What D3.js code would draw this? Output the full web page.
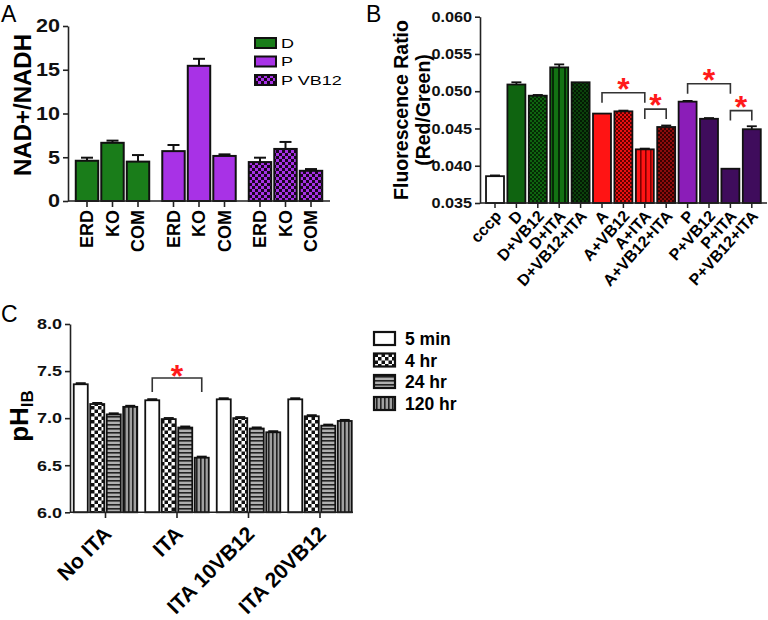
<!DOCTYPE html>
<html><head><meta charset="utf-8">
<script src="https://cdn.jsdelivr.net/npm/d3@7/dist/d3.min.js"></script>
<style>body{margin:0;background:#fff} svg{display:block;font-family:"Liberation Sans",Arial,Helvetica,sans-serif}</style>
</head><body><svg id="c" width="768" height="620"></svg>
<script>
// ---------- Panel A data ----------
const aGroups = ["D", "P", "P VB12"];
const aCats = ["ERD", "KO", "COM"];
const aD = [4.6, 6.65, 4.5];
const aDErr = [0.35, 0.25, 0.75];
const aP = [5.7, 15.45, 5.15];
const aPErr = [0.7, 0.8, 0.18];
const aPVB = [4.45, 5.95, 3.45];
const aPVBErr = [0.5, 0.8, 0.2];
const aTicks = [0, 5, 10, 15, 20];

// ---------- Panel B data ----------
const bCats = ["cccp","D","D+VB12","D+ITA","D+VB12+ITA","A","A+VB12","A+ITA","A+VB12+ITA","P","P+VB12","P+ITA","P+VB12+ITA"];
const bVals = [0.0386,0.0509,0.0494,0.0532,0.0512,0.0470,0.0473,0.0422,0.0452,0.0486,0.0463,0.0396,0.0449];
const bErr  = [0.0001,0.0003,0.0001,0.0004,0.0000,0.0000,0.0001,0.0001,0.0002,0.0001,0.0001,0.0000,0.0004];
const bTicks = [0.035,0.040,0.045,0.050,0.055,0.060];
const bBrackets = [["A","A+ITA",0.0498],["A+ITA","A+VB12+ITA",0.0476],["P","P+ITA",0.0510],["P+ITA","P+VB12+ITA",0.0474]];

// ---------- Panel C data ----------
const cGroups = ["No ITA","ITA","ITA 10VB12","ITA 20VB12"];
const cSeries = ["5 min","4 hr","24 hr","120 hr"];
const c5min  = [7.36,7.19,7.20,7.20];
const c4hr   = [7.15,6.99,7.00,7.02];
const c24hr  = [7.04,6.90,6.89,6.92];
const c120hr = [7.12,6.58,6.85,6.97];
const cErr   = [0.012,0.012,0.012,0.012];
const cTicks = [6.0,6.5,7.0,7.5,8.0];
const cBracket = ["ITA","5 min","120 hr",7.426];

// ---------- helpers ----------
const svg = d3.select("#c");
const defs = svg.append("defs");
function checker(id,a,b,s){
  const p=defs.append("pattern").attr("id",id).attr("patternUnits","userSpaceOnUse").attr("width",2*s).attr("height",2*s);
  p.append("rect").attr("width",2*s).attr("height",2*s).attr("fill",a);
  p.append("rect").attr("width",s).attr("height",s).attr("fill",b);
  p.append("rect").attr("x",s).attr("y",s).attr("width",s).attr("height",s).attr("fill",b);
}
function stripes(id,bg,fg,per,w,vertical){
  const p=defs.append("pattern").attr("id",id).attr("patternUnits","userSpaceOnUse").attr("width",per).attr("height",per);
  p.append("rect").attr("width",per).attr("height",per).attr("fill",bg);
  if(vertical) p.append("rect").attr("x",0).attr("width",w).attr("height",per).attr("fill",fg);
  else p.append("rect").attr("y",0).attr("height",w).attr("width",per).attr("fill",fg);
}
function stretch(sel,sx){
  sel.each(function(){const t=d3.select(this);const x=+t.attr("x")||0;const y=+t.attr("y")||0;
    t.attr("x",0).attr("y",0).attr("transform",`translate(${x},${y}) scale(${sx},1)`);});
}
function styleAxis(g){ g.selectAll("path,line").attr("stroke","#222").attr("stroke-width",1.6); }
function star(x,cy){
  svg.append("text").attr("x",x).attr("y",cy+18).attr("text-anchor","middle")
    .attr("font-size",32).attr("font-weight","bold").attr("fill","#ff1a1a").text("*");
}

// patterns
checker("pA3","#a832e6","#1a0520",3);
checker("pB2","#0f6410","#042a04",2);
stripes("pB3","#137213","#042a04",6,2,true);
checker("pB4","#0c420c","#031a03",2);
checker("pB6","#e81010","#600000",2);
stripes("pB7","#ff1414","#800000",5,1.6,true);
checker("pB8","#8c0c0c","#3a0000",2);
checker("pC2","#ffffff","#111111",3.5);
stripes("pC3","#b0b0b0","#222222",4,1.6,false);
stripes("pC4","#a0a0a0","#222222",4,1.6,true);

// panel letters
svg.append("text").attr("x",1).attr("y",22).attr("font-size",23).text("A");
svg.append("text").attr("x",366).attr("y",22).attr("font-size",23).text("B");
svg.append("text").attr("x",1).attr("y",322).attr("font-size",23).text("C");

// ================= Panel A =================
{
  const x0=d3.scaleBand().domain(aGroups).range([74.5,323.5]).paddingInner(0.1214);
  const x1=d3.scaleBand().domain(aCats).range([0,x0.bandwidth()]).paddingInner(0.12).paddingOuter(0.05);
  const y=d3.scaleLinear().domain([0,20]).range([201,26]);
  const vals=[aD,aP,aPVB], errs=[aDErr,aPErr,aPVBErr];
  const fills=["#1a7d1a","#a832e6","url(#pA3)"];
  const g=svg.append("g");
  aGroups.forEach((gr,gi)=>{
    aCats.forEach((c,ci)=>{
      const v=vals[gi][ci], e=errs[gi][ci], bx=x0(gr)+x1(c), bw=x1.bandwidth(), cx=bx+bw/2;
      g.append("line").attr("x1",cx).attr("x2",cx).attr("y1",y(v)).attr("y2",y(v+e)).attr("stroke","#111").attr("stroke-width",2);
      g.append("line").attr("x1",cx-6).attr("x2",cx+6).attr("y1",y(v+e)).attr("y2",y(v+e)).attr("stroke","#111").attr("stroke-width",2);
      g.append("rect").attr("x",bx).attr("y",y(v)).attr("width",bw).attr("height",y(0)-y(v))
        .attr("fill",fills[gi]).attr("stroke","#111").attr("stroke-width",2);
      g.append("line").attr("x1",cx).attr("x2",cx).attr("y1",201).attr("y2",207).attr("stroke","#222").attr("stroke-width",1.6);
      g.append("text").attr("transform",`translate(${cx},210) rotate(-90)`).attr("dy","0.35em")
        .attr("text-anchor","end").attr("font-weight","bold").attr("font-size",18).text(c);
    });
  });
  g.append("line").attr("x1",68).attr("x2",330).attr("y1",201).attr("y2",201).attr("stroke","#222").attr("stroke-width",1.6);
  const ya=svg.append("g").attr("transform","translate(68,0)")
    .call(d3.axisLeft(y).tickValues(aTicks).tickSize(5).tickPadding(3).tickSizeOuter(0));
  styleAxis(ya);
  ya.selectAll("text").attr("font-size",18).attr("font-weight","bold").attr("fill","#111").attr("font-family","Liberation Sans, Arial, sans-serif");
  stretch(ya.selectAll("text"),1.2);
  svg.append("text").attr("transform","translate(23,105) rotate(-90)").attr("dy","0.35em").attr("text-anchor","middle")
    .attr("font-weight","bold").attr("font-size",24).text("NAD+/NADH");
  // legend
  const ly=[38,56.5,75];
  aGroups.forEach((gr,i)=>{
    svg.append("rect").attr("x",255).attr("y",ly[i]).attr("width",21).attr("height",10).attr("fill",fills[i]).attr("stroke","#111").attr("stroke-width",2);
    const t=svg.append("text").attr("x",281).attr("y",ly[i]+9.5).attr("font-size",12).text(gr);
    stretch(t,1.5);
  });
}

// ================= Panel B =================
{
  const x=d3.scaleBand().domain(bCats).range([484.3,762.5]).paddingInner(0.16).paddingOuter(0.08);
  const y=d3.scaleLinear().domain([0.035,0.060]).range([203,16.7]);
  const fills=["#ffffff","#0f6410","url(#pB2)","url(#pB3)","url(#pB4)","#ff1414","url(#pB6)","url(#pB7)","url(#pB8)","#8b1db8","#3f0c5c","#3f0c5c","#3f0c5c"];
  const g=svg.append("g");
  const bw=x.bandwidth();
  bCats.forEach((c,i)=>{
    const v=bVals[i], e=bErr[i], bx=x(c), cx=bx+bw/2;
    if(e>0){
      g.append("line").attr("x1",cx).attr("x2",cx).attr("y1",y(v)).attr("y2",y(v+e)).attr("stroke","#111").attr("stroke-width",1.8);
      g.append("line").attr("x1",cx-5).attr("x2",cx+5).attr("y1",y(v+e)).attr("y2",y(v+e)).attr("stroke","#111").attr("stroke-width",1.8);
    }
    g.append("rect").attr("x",bx).attr("y",y(v)).attr("width",bw).attr("height",y(0.035)-y(v))
      .attr("fill",fills[i]).attr("stroke","#111").attr("stroke-width",1.8);
    g.append("line").attr("x1",cx).attr("x2",cx).attr("y1",203).attr("y2",208).attr("stroke","#222").attr("stroke-width",1.5);
    g.append("text").attr("transform",`translate(${cx+3},213) rotate(-48)`).attr("dy","0.35em")
      .attr("text-anchor","end").attr("font-weight","bold").attr("font-size",16).text(c);
  });
  g.append("line").attr("x1",480).attr("x2",767).attr("y1",203).attr("y2",203).attr("stroke","#222").attr("stroke-width",1.6);
  const ya=svg.append("g").attr("transform","translate(480,0)")
    .call(d3.axisLeft(y).tickValues(bTicks).tickFormat(d3.format(".3f")).tickSize(5).tickPadding(3).tickSizeOuter(0));
  styleAxis(ya);
  ya.selectAll("text").attr("font-size",14.5).attr("font-weight","bold").attr("fill","#111").attr("font-family","Liberation Sans, Arial, sans-serif");
  stretch(ya.selectAll("text"),1.12);
  svg.append("text").attr("transform","translate(401,110) rotate(-90)").attr("dy","0.35em").attr("text-anchor","middle")
    .attr("font-weight","bold").attr("font-size",19.5).text("Fluorescence Ratio");
  svg.append("text").attr("transform","translate(423,110) rotate(-90)").attr("dy","0.35em").attr("text-anchor","middle")
    .attr("font-weight","bold").attr("font-size",19.5).text("(Red/Green)");
  bBrackets.forEach(([c1,c2,v])=>{
    const x1=x(c1)+bw/2, x2=x(c2)+bw/2, yt=y(v);
    svg.append("path").attr("d",`M${x1},${yt+10}V${yt}H${x2}V${yt+10}`).attr("fill","none").attr("stroke","#333").attr("stroke-width",1.6);
    star((x1+x2)/2, yt-11);
  });
}

// ================= Panel C =================
{
  const x0=d3.scaleBand().domain(cGroups).range([72.5,353]).paddingInner(0.077);
  const x1=d3.scaleBand().domain(cSeries).range([0,x0.bandwidth()]).paddingInner(0.15).paddingOuter(0.075);
  const y=d3.scaleLinear().domain([6,8]).range([512.3,324]);
  const series=[c5min,c4hr,c24hr,c120hr];
  const fills=["#ffffff","url(#pC2)","url(#pC3)","url(#pC4)"];
  const g=svg.append("g");
  const bw=x1.bandwidth();
  cGroups.forEach((gr,gi)=>{
    cSeries.forEach((s,si)=>{
      const v=series[si][gi], e=cErr[gi], bx=x0(gr)+x1(s), cx=bx+bw/2;
      g.append("line").attr("x1",cx-5).attr("x2",cx+5).attr("y1",y(v+e)).attr("y2",y(v+e)).attr("stroke","#111").attr("stroke-width",1.8);
      g.append("rect").attr("x",bx).attr("y",y(v)).attr("width",bw).attr("height",y(6)-y(v))
        .attr("fill",fills[si]).attr("stroke","#111").attr("stroke-width",1.8);
    });
    const gc=x0(gr)+x0.bandwidth()/2;
    g.append("line").attr("x1",gc).attr("x2",gc).attr("y1",512).attr("y2",518).attr("stroke","#222").attr("stroke-width",1.6);
    g.append("text").attr("transform",`translate(${gc+2},530) rotate(-45)`).attr("dy","0.35em")
      .attr("text-anchor","end").attr("font-weight","bold").attr("font-size",21).text(gr);
  });
  g.append("line").attr("x1",70).attr("x2",353).attr("y1",512.3).attr("y2",512.3).attr("stroke","#222").attr("stroke-width",1.6);
  const ya=svg.append("g").attr("transform","translate(70,0)")
    .call(d3.axisLeft(y).tickValues(cTicks).tickFormat(d3.format(".1f")).tickSize(5).tickPadding(3).tickSizeOuter(0));
  styleAxis(ya);
  ya.selectAll("text").attr("font-size",15).attr("font-weight","bold").attr("fill","#111").attr("font-family","Liberation Sans, Arial, sans-serif");
  stretch(ya.selectAll("text"),1.2);
  const yl=svg.append("text").attr("transform","translate(28,416) rotate(-90)").attr("text-anchor","middle")
    .attr("font-weight","bold").attr("font-size",26);
  yl.append("tspan").text("pH");
  yl.append("tspan").attr("dy",5).attr("font-size",17).text("IB");
  // bracket
  const [bg,s1,s2,bv]=cBracket;
  const bx1=x0(bg)+x1(s1)+bw/2, bx2=x0(bg)+x1(s2)+bw/2, byt=y(bv);
  svg.append("path").attr("d",`M${bx1},${byt+14}V${byt}H${bx2}V${byt+14}`).attr("fill","none").attr("stroke","#333").attr("stroke-width",1.6);
  star((bx1+bx2)/2, byt-9);
  // legend
  const ly=[332,353.5,375,397];
  cSeries.forEach((s,i)=>{
    svg.append("rect").attr("x",374).attr("y",ly[i]).attr("width",21).attr("height",13).attr("fill",fills[i]).attr("stroke","#111").attr("stroke-width",2.2);
    svg.append("text").attr("x",405).attr("y",ly[i]+13).attr("font-size",17.5).attr("font-weight","bold").text(s);
  });
}
</script></body></html>
